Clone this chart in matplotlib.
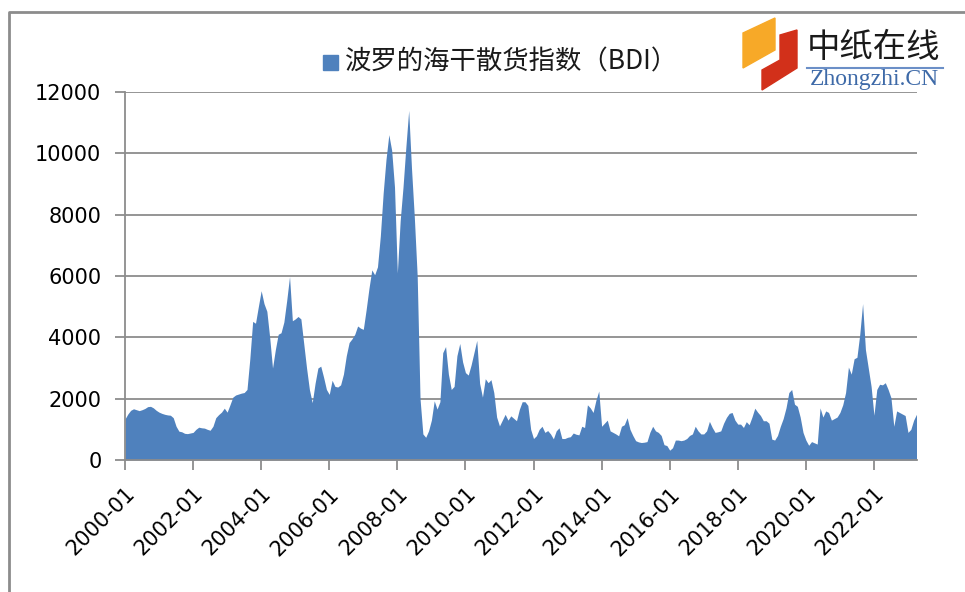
import numpy as np
import matplotlib
matplotlib.use('Agg')
import matplotlib.pyplot as plt
from matplotlib.patches import Polygon, Rectangle
from matplotlib.lines import Line2D

plt.rcParams['font.family'] = ['DejaVu Sans']

# monthly BDI, 2000-01 .. 2023-04
bdi_2000 = [1340, 1500, 1620, 1670, 1640, 1610, 1640, 1680, 1740, 1750, 1700, 1620]
bdi_2001 = [1560, 1520, 1490, 1470, 1460, 1380, 1100, 940, 920, 870, 860, 880]
bdi_2002 = [900, 1000, 1070, 1050, 1040, 1000, 970, 1100, 1380, 1480, 1560, 1690]
bdi_2003 = [1560, 1800, 2050, 2120, 2150, 2180, 2200, 2300, 3300, 4520, 4460, 5000]
bdi_2004 = [5520, 5100, 4850, 4000, 3000, 3600, 4100, 4150, 4500, 5200, 5980, 4540]
bdi_2005 = [4600, 4680, 4600, 3800, 3000, 2300, 1870, 2500, 3000, 3060, 2700, 2300]
bdi_2006 = [2140, 2600, 2400, 2380, 2450, 2800, 3400, 3830, 3950, 4100, 4370, 4300]
bdi_2007 = [4260, 4900, 5600, 6200, 6040, 6300, 7300, 8700, 9800, 10610, 10100, 8900]
bdi_2008 = [6100, 7800, 8900, 10200, 11400, 9500, 7900, 6000, 2000, 850, 740, 950]
bdi_2009 = [1300, 1930, 1660, 1900, 3500, 3700, 2800, 2300, 2400, 3400, 3800, 3200]
bdi_2010 = [2850, 2770, 3100, 3500, 3900, 2500, 2050, 2650, 2520, 2620, 2200, 1400]
bdi_2011 = [1110, 1300, 1490, 1300, 1440, 1360, 1280, 1650, 1900, 1900, 1780, 1000]
bdi_2012 = [700, 790, 1000, 1100, 900, 960, 850, 690, 950, 1050, 700, 700]
bdi_2013 = [740, 760, 880, 840, 820, 1100, 1060, 1800, 1700, 1550, 1950, 2250]
bdi_2014 = [1100, 1200, 1300, 950, 900, 850, 790, 1100, 1150, 1380, 1000, 800]
bdi_2015 = [630, 590, 570, 580, 600, 900, 1100, 950, 900, 800, 500, 470]
bdi_2016 = [320, 400, 650, 650, 630, 650, 700, 800, 850, 1100, 950, 850]
bdi_2017 = [850, 950, 1260, 1060, 900, 920, 950, 1200, 1390, 1520, 1550, 1300]
bdi_2018 = [1170, 1170, 1060, 1250, 1150, 1400, 1690, 1560, 1450, 1280, 1280, 1200]
bdi_2019 = [680, 650, 800, 1100, 1350, 1700, 2200, 2300, 1820, 1750, 1400, 900]
bdi_2020 = [650, 480, 600, 560, 520, 1700, 1400, 1600, 1550, 1300, 1350, 1400]
bdi_2021 = [1550, 1800, 2200, 3030, 2800, 3300, 3350, 4100, 5100, 3600, 3000, 2400]
bdi_2022 = [1460, 2300, 2470, 2450, 2520, 2300, 2030, 1100, 1600, 1550, 1500, 1450]
bdi_2023 = [900, 1000, 1300, 1490]

values = (bdi_2000 + bdi_2001 + bdi_2002 + bdi_2003 + bdi_2004 + bdi_2005 + bdi_2006
          + bdi_2007 + bdi_2008 + bdi_2009 + bdi_2010 + bdi_2011 + bdi_2012 + bdi_2013
          + bdi_2014 + bdi_2015 + bdi_2016 + bdi_2017 + bdi_2018 + bdi_2019 + bdi_2020
          + bdi_2021 + bdi_2022 + bdi_2023)
months = [f'{2000 + i // 12}-{i % 12 + 1:02d}' for i in range(len(values))]
tick_labels = [m for m in months if m.endswith('-01') and int(m[:4]) % 2 == 0]
yticks = [0, 2000, 4000, 6000, 8000, 10000, 12000]
title = '波罗的海干散货指数（BDI）'

W, H = 965, 592
fig = plt.figure(figsize=(W / 100, H / 100), dpi=100)

def px(x, y):
    return (x / W, 1 - y / H)

ax = fig.add_axes([125 / W, 1 - 460 / H, (916.5 - 125) / W, (460 - 92) / H])
x = np.arange(len(values))
ax.fill_between(x, 0, values, color='#4f81bd', lw=0, zorder=2)
ax.set_xlim(0, len(values) - 1)
ax.set_ylim(0, 12000)
ax.set_yticks(yticks)
ax.set_yticklabels([str(v) for v in yticks], fontsize=15)
ax.grid(axis='y', color='#8c8c8c', lw=1.3, zorder=0)
ax.set_axisbelow(True)
ax.set_xticks([months.index(t) for t in tick_labels])
ax.set_xticklabels(tick_labels, rotation=45, ha='right', rotation_mode='anchor', fontsize=15)
for s in ['top', 'right']:
    ax.spines[s].set_visible(False)
for s in ['left', 'bottom']:
    ax.spines[s].set_color('#8c8c8c')
    ax.spines[s].set_linewidth(1.3)
ax.tick_params(axis='both', direction='out', length=7, width=1.3, color='#8c8c8c', pad=10)
ax.tick_params(axis='x', pad=10)

# legend-style title
fig.add_artist(Rectangle(px(323, 70), 15 / W, 15 / H, transform=fig.transFigure,
                         color='#4f81bd'))
fig.text(*px(345, 62), title, fontsize=19, va='center', ha='left',
         family=['Noto Sans CJK SC', 'DejaVu Sans'], color='#1a1a1a')

# outer chart border
fig.add_artist(Line2D([9 / W, 9 / W, 1.0], [0.0, 1 - 12 / H, 1 - 12 / H],
                      transform=fig.transFigure, color='#8c8c8c', lw=2))

# logo
orange = [px(743, 33), px(775, 18), px(775, 50), px(743, 68)]
red = [px(780, 35), px(797, 30), px(797, 68), px(762, 90), px(762, 70), px(780, 60)]
fig.add_artist(Polygon(orange, closed=True, transform=fig.transFigure, color='#f7a928'))
fig.add_artist(Polygon(red, closed=True, transform=fig.transFigure, color='#d2301a'))
fig.text(*px(874, 48), '中纸在线', fontsize=24, ha='center', va='center',
         family=['Noto Sans CJK SC'], color='#1a1a1a')
fig.add_artist(Line2D([807 / W, 943 / W], [1 - 68 / H, 1 - 68 / H],
                      transform=fig.transFigure, color='#6b8fc7', lw=1.5))
fig.text(*px(874, 79), 'Zhongzhi.CN', fontsize=17, ha='center', va='center',
         family=['Liberation Serif'], color='#3e6aa8')

fig.savefig('out.png', dpi=100)
